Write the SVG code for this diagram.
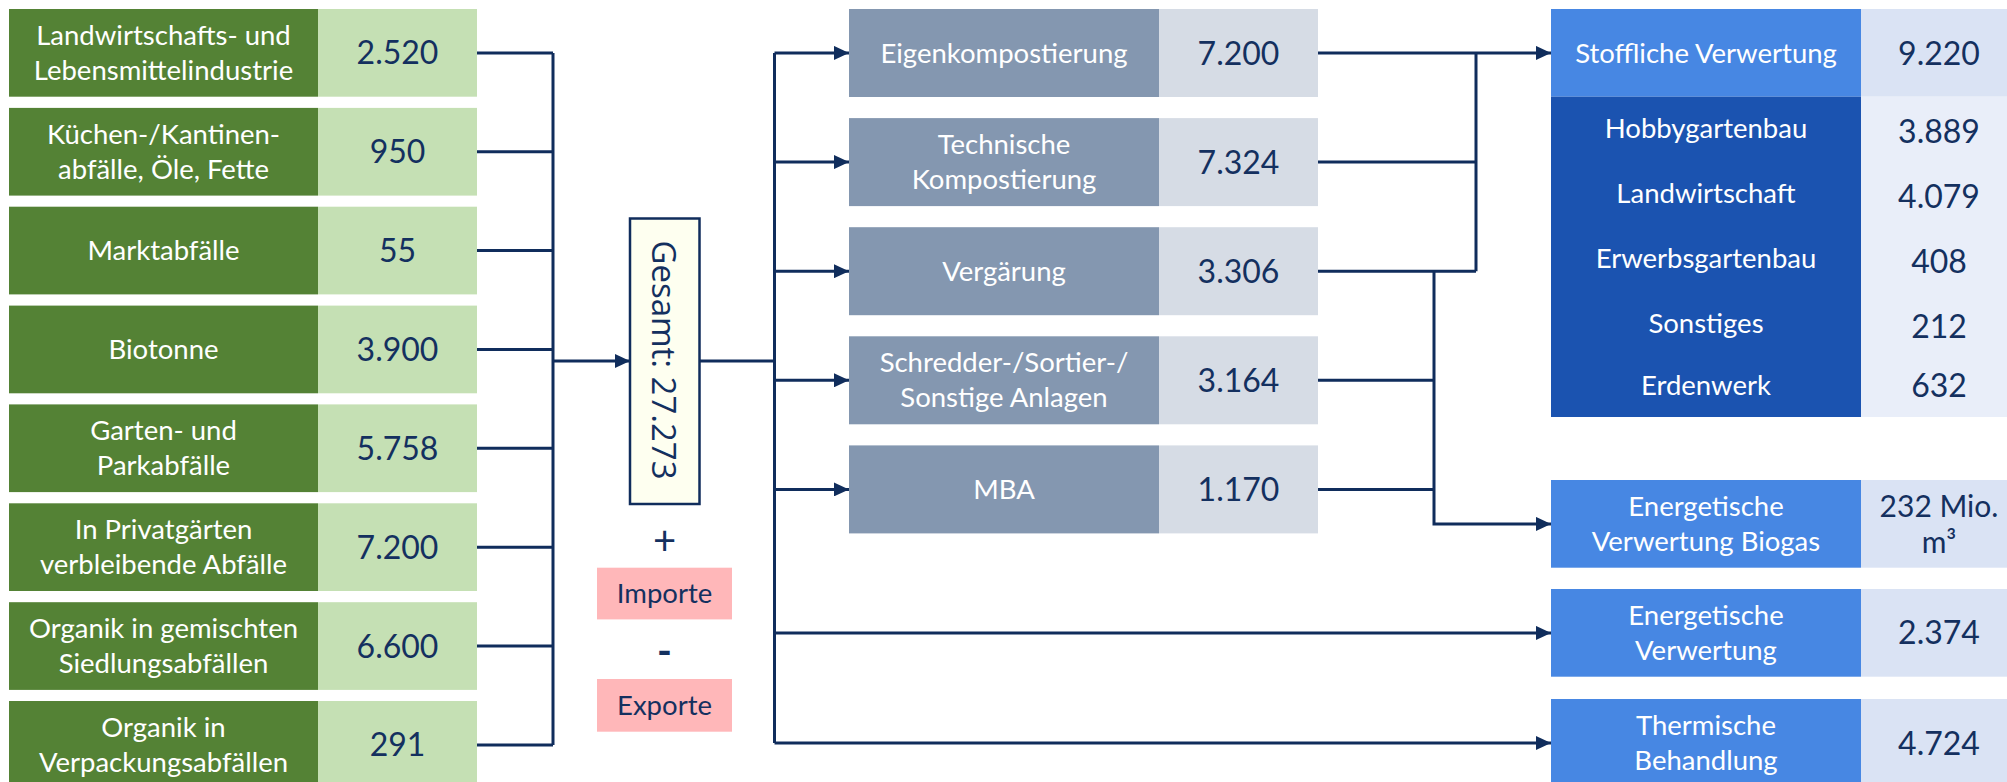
<svg xmlns="http://www.w3.org/2000/svg" width="2007" height="782" viewBox="0 0 2007 782">
  <style>
    text { font-family: Lato, "Open Sans", "DejaVu Sans", sans-serif; text-anchor: middle; }
    .lbl { font-size: 27.5px; fill: #ffffff; }
    .val { font-size: 32px; fill: #14305f; }
    .val-s { font-size: 30px; fill: #14305f; }
    .dark { font-size: 27.5px; fill: #14305f; }
    .src { fill: #548235; }
    .src-v { fill: #c5e0b4; }
    .proc { fill: #8497b0; }
    .proc-v { fill: #d6dce5; }
    .out { fill: #4787e3; }
    .out-d { fill: #1b53b0; }
    .out-v { fill: #dae3f4; }
    .out-v2 { fill: #e9eef9; }
    .pink { fill: #ffb7b9; }
    .wire { fill: none; stroke: #102d5c; stroke-width: 3; }
    .arr { marker-end: url(#head); }
  </style>
  <defs>
    <marker id="head" viewBox="0 0 15 14" refX="15" refY="7" markerWidth="15" markerHeight="14" markerUnits="userSpaceOnUse" orient="auto">
      <path d="M0,0 L15,7 L0,14 z" fill="#102d5c"/>
    </marker>
  </defs>

  <rect width="2007" height="782" fill="#ffffff"/>

  <!-- connectors -->
  <g id="connectors">
    <!-- sources to collector bus -->
    <path class="wire" d="M477,52.9 H553 M477,151.7 H553 M477,250.6 H553 M477,349.4 H553 M477,448.3 H553 M477,547.2 H553 M477,646 H553 M477,744.9 H553 M553,52.9 V744.9"/>
    <path class="wire arr" d="M553,361 H630"/>
    <!-- total to distribution bus -->
    <path class="wire" d="M699.5,361 H774.5 M774.5,52.9 V743"/>
    <path class="wire arr" d="M774.5,52.9 H849"/>
    <path class="wire arr" d="M774.5,162.1 H849"/>
    <path class="wire arr" d="M774.5,271.2 H849"/>
    <path class="wire arr" d="M774.5,380.3 H849"/>
    <path class="wire arr" d="M774.5,489.4 H849"/>
    <path class="wire arr" d="M774.5,632.9 H1551"/>
    <path class="wire arr" d="M774.5,743 H1551"/>
    <!-- processing to material recovery -->
    <path class="wire arr" d="M1318,52.9 H1551"/>
    <path class="wire" d="M1318,162.1 H1476 M1318,271.2 H1476 M1476,52.9 V271.2"/>
    <!-- processing to biogas -->
    <path class="wire" d="M1318,380.3 H1434 M1318,489.4 H1434"/>
    <path class="wire arr" d="M1434,271.2 V523.9 H1551"/>
  </g>

  <!-- sources -->
  <g id="src-landwirtschaft">
    <rect class="src" x="9" y="9" width="309" height="87.7"/>
    <rect class="src-v" x="318" y="9" width="159" height="87.7"/>
    <text class="lbl" x="163.5" y="44.9">Landwirtschafts- und</text>
    <text class="lbl" x="163.5" y="79.9">Lebensmittelindustrie</text>
    <text class="val" x="397.5" y="64.4">2.520</text>
  </g>
  <g id="src-kuechen">
    <rect class="src" x="9" y="107.9" width="309" height="87.7"/>
    <rect class="src-v" x="318" y="107.9" width="159" height="87.7"/>
    <text class="lbl" x="163.5" y="143.7">Küchen-/Kantinen-</text>
    <text class="lbl" x="163.5" y="178.7">abfälle, Öle, Fette</text>
    <text class="val" x="397.5" y="163.2">950</text>
  </g>
  <g id="src-markt">
    <rect class="src" x="9" y="206.7" width="309" height="87.7"/>
    <rect class="src-v" x="318" y="206.7" width="159" height="87.7"/>
    <text class="lbl" x="163.5" y="260">Marktabfälle</text>
    <text class="val" x="397.5" y="262.1">55</text>
  </g>
  <g id="src-biotonne">
    <rect class="src" x="9" y="305.6" width="309" height="87.7"/>
    <rect class="src-v" x="318" y="305.6" width="159" height="87.7"/>
    <text class="lbl" x="163.5" y="358.8">Biotonne</text>
    <text class="val" x="397.5" y="360.9">3.900</text>
  </g>
  <g id="src-garten">
    <rect class="src" x="9" y="404.4" width="309" height="87.7"/>
    <rect class="src-v" x="318" y="404.4" width="159" height="87.7"/>
    <text class="lbl" x="163.5" y="440.3">Garten- und</text>
    <text class="lbl" x="163.5" y="475.3">Parkabfälle</text>
    <text class="val" x="397.5" y="459.8">5.758</text>
  </g>
  <g id="src-privatgaerten">
    <rect class="src" x="9" y="503.3" width="309" height="87.7"/>
    <rect class="src-v" x="318" y="503.3" width="159" height="87.7"/>
    <text class="lbl" x="163.5" y="539.2">In Privatgärten</text>
    <text class="lbl" x="163.5" y="574.2">verbleibende Abfälle</text>
    <text class="val" x="397.5" y="558.7">7.200</text>
  </g>
  <g id="src-siedlung">
    <rect class="src" x="9" y="602.2" width="309" height="87.7"/>
    <rect class="src-v" x="318" y="602.2" width="159" height="87.7"/>
    <text class="lbl" x="163.5" y="638">Organik in gemischten</text>
    <text class="lbl" x="163.5" y="673">Siedlungsabfällen</text>
    <text class="val" x="397.5" y="657.5">6.600</text>
  </g>
  <g id="src-verpackung">
    <rect class="src" x="9" y="701" width="309" height="87.7"/>
    <rect class="src-v" x="318" y="701" width="159" height="87.7"/>
    <text class="lbl" x="163.5" y="736.9">Organik in</text>
    <text class="lbl" x="163.5" y="771.9">Verpackungsabfällen</text>
    <text class="val" x="397.5" y="756.4">291</text>
  </g>

  <!-- total and balance -->
  <g id="gesamt">
    <rect x="630" y="218.5" width="69.5" height="285.5" fill="#fefff0" stroke="#102d5c" stroke-width="2.5"/>
    <text transform="translate(652,360) rotate(90)" style="font-family:'Open Sans','DejaVu Sans',sans-serif;font-size:33px;fill:#14305f">Gesamt: 27.273</text>
  </g>
  <g id="plus">
    <text x="664.5" y="555" style="font-size:40px;font-weight:400;fill:#14305f">+</text>
  </g>
  <g id="importe">
    <rect class="pink" x="597" y="567.7" width="135" height="51.7"/>
    <text class="dark" x="664.5" y="603">Importe</text>
  </g>
  <g id="minus">
    <text x="664.5" y="665" style="font-size:40px;font-weight:700;fill:#14305f">-</text>
  </g>
  <g id="exporte">
    <rect class="pink" x="597" y="679" width="135" height="52.7"/>
    <text class="dark" x="664.5" y="715">Exporte</text>
  </g>

  <!-- processing -->
  <g id="proc-eigen">
    <rect class="proc" x="849" y="9" width="310" height="88"/>
    <rect class="proc-v" x="1159" y="9" width="159" height="88"/>
    <text class="lbl" x="1004" y="62.5">Eigenkompostierung</text>
    <text class="val" x="1238.5" y="64.5">7.200</text>
  </g>
  <g id="proc-technisch">
    <rect class="proc" x="849" y="118.1" width="310" height="88"/>
    <rect class="proc-v" x="1159" y="118.1" width="159" height="88"/>
    <text class="lbl" x="1004" y="154.1">Technische</text>
    <text class="lbl" x="1004" y="189.1">Kompostierung</text>
    <text class="val" x="1238.5" y="173.6">7.324</text>
  </g>
  <g id="proc-vergaerung">
    <rect class="proc" x="849" y="227.2" width="310" height="88"/>
    <rect class="proc-v" x="1159" y="227.2" width="159" height="88"/>
    <text class="lbl" x="1004" y="280.6">Vergärung</text>
    <text class="val" x="1238.5" y="282.7">3.306</text>
  </g>
  <g id="proc-schredder">
    <rect class="proc" x="849" y="336.3" width="310" height="88"/>
    <rect class="proc-v" x="1159" y="336.3" width="159" height="88"/>
    <text class="lbl" x="1004" y="372.3">Schredder-/Sortier-/</text>
    <text class="lbl" x="1004" y="407.3">Sonstige Anlagen</text>
    <text class="val" x="1238.5" y="391.8">3.164</text>
  </g>
  <g id="proc-mba">
    <rect class="proc" x="849" y="445.4" width="310" height="88"/>
    <rect class="proc-v" x="1159" y="445.4" width="159" height="88"/>
    <text class="lbl" x="1004" y="498.8">MBA</text>
    <text class="val" x="1238.5" y="500.9">1.170</text>
  </g>

  <!-- outputs -->
  <g id="out-stofflich">
    <rect class="out" x="1551" y="9" width="310" height="87.7"/>
    <rect class="out-v" x="1861" y="9" width="146" height="87.7"/>
    <rect class="out-d" x="1551" y="96.7" width="310" height="320.3"/>
    <rect class="out-v2" x="1861" y="96.7" width="146" height="320.3"/>
    <text class="lbl" x="1706" y="62.8">Stoffliche Verwertung</text>
    <text class="val" x="1939" y="64.5">9.220</text>
    <text class="lbl" x="1706" y="138.3">Hobbygartenbau</text>
    <text class="val" x="1939" y="142.7">3.889</text>
    <text class="lbl" x="1706" y="203.3">Landwirtschaft</text>
    <text class="val" x="1939" y="208.3">4.079</text>
    <text class="lbl" x="1706" y="268.3">Erwerbsgartenbau</text>
    <text class="val" x="1939" y="273.3">408</text>
    <text class="lbl" x="1706" y="333.3">Sonstiges</text>
    <text class="val" x="1939" y="338.3">212</text>
    <text class="lbl" x="1706" y="395">Erdenwerk</text>
    <text class="val" x="1939" y="397.3">632</text>
  </g>
  <g id="out-biogas">
    <rect class="out" x="1551" y="480" width="310" height="87.7"/>
    <rect class="out-v" x="1861" y="480" width="146" height="87.7"/>
    <text class="lbl" x="1706" y="516">Energetische</text>
    <text class="lbl" x="1706" y="551">Verwertung Biogas</text>
    <text class="val-s" x="1939" y="516.5">232 Mio.</text>
    <text class="val-s" x="1939" y="553">m³</text>
  </g>
  <g id="out-energetisch">
    <rect class="out" x="1551" y="589" width="310" height="87.7"/>
    <rect class="out-v" x="1861" y="589" width="146" height="87.7"/>
    <text class="lbl" x="1706" y="625">Energetische</text>
    <text class="lbl" x="1706" y="660">Verwertung</text>
    <text class="val" x="1939" y="644.4">2.374</text>
  </g>
  <g id="out-thermisch">
    <rect class="out" x="1551" y="699" width="310" height="88"/>
    <rect class="out-v" x="1861" y="699" width="146" height="88"/>
    <text class="lbl" x="1706" y="735">Thermische</text>
    <text class="lbl" x="1706" y="770">Behandlung</text>
    <text class="val" x="1939" y="754.5">4.724</text>
  </g>
</svg>
